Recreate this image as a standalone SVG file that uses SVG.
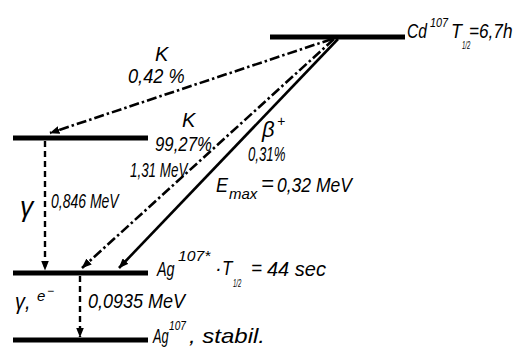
<svg xmlns="http://www.w3.org/2000/svg" width="518" height="353" viewBox="0 0 518 353">
<defs>
<style>
.lvl{stroke:#000;stroke-width:5;stroke-linecap:butt}
.dd{fill:none;stroke:#000;stroke-width:2.6;stroke-dasharray:10 3 2.5 3}
.sol{fill:none;stroke:#000;stroke-width:2.6}
.dash{fill:none;stroke:#000;stroke-width:2.4;stroke-dasharray:6 4}
text{font-family:"Liberation Sans","DejaVu Sans",sans-serif;font-style:italic;fill:#000;font-size:20px}
</style>
<marker id="ah" viewBox="0 0 10 8" refX="9.5" refY="4" markerWidth="10" markerHeight="8" markerUnits="userSpaceOnUse" orient="auto">
<path d="M0,0 L10,4 L0,8 Z" fill="#000"/>
</marker>
</defs>
<g id="level-cd"><line class="lvl" x1="270" y1="37" x2="405" y2="37"/>
<text transform="translate(407 38) scale(0.78 1)">Cd</text>
<text transform="translate(430 27) scale(0.83 1)" style="font-size:13px">107</text>
<text transform="translate(451 38) scale(0.9 1)">T</text>
<text transform="translate(462 49) scale(0.6 1)" style="font-size:10px">1/2</text>
<text transform="translate(469 38) scale(0.86 1)">=6,7h</text>
</g>
<g id="level-k"><line class="lvl" x1="13" y1="138" x2="148" y2="138"/></g>
<g id="level-agm"><line class="lvl" x1="13" y1="273" x2="148" y2="273"/>
<text transform="translate(157 276) scale(0.72 1)">Ag</text>
<text transform="translate(178 261) scale(1.05 1)" style="font-size:15px">107*</text>
<text transform="translate(215 275)">·</text>
<text transform="translate(222 275) scale(0.85 1)">T</text>
<text transform="translate(233 287) scale(0.6 1)" style="font-size:10px">1/2</text>
<text transform="translate(251 275) scale(0.95 1)">=</text>
<text transform="translate(267 276)">44 sec</text>
</g>
<g id="level-ag"><line class="lvl" x1="13" y1="340" x2="148" y2="340"/>
<text transform="translate(153 343) scale(0.64 1)">Ag</text>
<text transform="translate(169 330) scale(0.78 1)" style="font-size:13px">107</text>
<text transform="translate(189 343) scale(1.2 1)">, stabil.</text>
</g>
<g id="connectors">
<line class="dd" x1="332" y1="39" x2="50" y2="133" marker-end="url(#ah)"/>
<line class="dd" x1="334" y1="39" x2="82" y2="268" marker-end="url(#ah)"/>
<line class="sol" x1="338" y1="39" x2="119" y2="268" marker-end="url(#ah)"/>
<line class="dash" x1="45" y1="141" x2="45" y2="270" marker-end="url(#ah)"/>
<line class="dash" x1="80" y1="276" x2="80" y2="337" marker-end="url(#ah)"/>
</g>
<g id="labels">
<text transform="translate(155 61)">K</text>
<text transform="translate(128 83) scale(0.91 1)">0,42 %</text>
<text transform="translate(182 127)">K</text>
<text transform="translate(155 151) scale(0.84 1)">99,27%</text>
<text transform="translate(130 177) scale(0.67 1)">1,31 MeV</text>
<text transform="translate(262 137)" style="font-size:22px">β</text>
<text transform="translate(277 126)" style="font-size:14px">+</text>
<text transform="translate(248 161) scale(0.66 1)">0,31%</text>
<text transform="translate(216 192) scale(0.9 1)">E</text>
<text transform="translate(229 199)" style="font-size:15px">max</text>
<text transform="translate(261 191)" style="font-size:22px">=</text>
<text transform="translate(277 192) scale(0.875 1)">0,32 MeV</text>
<text transform="translate(20 216) scale(0.95 1)" style="font-size:28px">γ</text>
<text transform="translate(51 208) scale(0.7 1)">0,846 MeV</text>
<text transform="translate(15 309) scale(0.9 1)" style="font-size:22px">γ,</text>
<text transform="translate(37 301)" style="font-size:15px">e</text>
<text transform="translate(47 295)" style="font-size:12px">−</text>
<text transform="translate(88 308) scale(0.9 1)">0,0935 MeV</text>
</g>
</svg>
